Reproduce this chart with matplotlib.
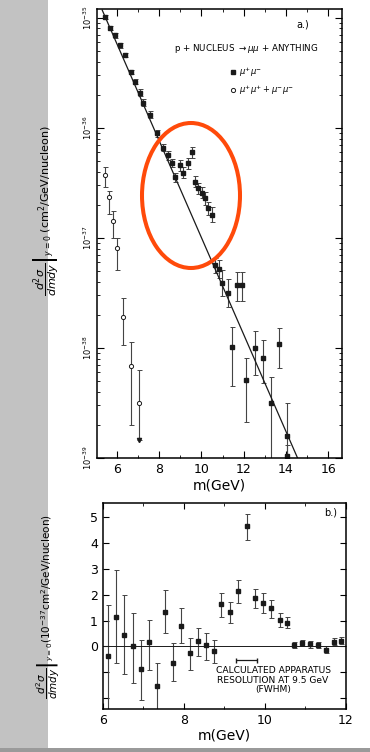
import numpy as np
import matplotlib.pyplot as plt
from matplotlib.patches import Ellipse, Rectangle
from matplotlib.lines import Line2D
from matplotlib.ticker import LogLocator, NullFormatter, MultipleLocator

plt.rcParams['font.family'] = ['DejaVu Sans']

# ---- panel a: mu+ mu- (filled), log10 of cross section ----
m_pm = [5.43, 5.67, 5.91, 6.14, 6.38, 6.66, 6.85, 7.09, 7.23, 7.56, 7.90, 8.18, 8.42,
        8.61, 8.75, 8.99, 9.13, 9.36, 9.55, 9.70, 9.84, 10.03, 10.17, 10.31, 10.50,
        10.64, 10.83, 10.98, 11.26, 11.69, 11.92, 11.45, 12.11, 12.54, 12.92, 13.30,
        13.68, 14.06, 14.06]
log_pm = [-34.99, -35.09, -35.16, -35.25, -35.34, -35.49, -35.58, -35.68, -35.77, -35.88,
          -36.05, -36.18, -36.25, -36.32, -36.45, -36.34, -36.41, -36.32, -36.22, -36.49,
          -36.55, -36.59, -36.64, -36.73, -36.79, -37.25, -37.28, -37.41, -37.50, -37.43,
          -37.43, -37.99, -38.29, -38.00, -38.09, -38.50, -37.96, -38.80, -38.98]
err_lo_pm = [0.02, 0.02, 0.02, 0.02, 0.02, 0.02, 0.02, 0.03, 0.03, 0.03, 0.03, 0.03, 0.04,
             0.04, 0.04, 0.05, 0.05, 0.05, 0.05, 0.05, 0.05, 0.05, 0.06, 0.06, 0.07,
             0.07, 0.08, 0.12, 0.13, 0.14, 0.14, 0.36, 0.38, 0.25, 0.23, 0.55, 0.22, 0.30, 0.30]
err_hi_pm = [0.02, 0.02, 0.02, 0.02, 0.02, 0.02, 0.02, 0.03, 0.03, 0.03, 0.03, 0.03, 0.04,
             0.04, 0.04, 0.05, 0.05, 0.05, 0.05, 0.05, 0.05, 0.05, 0.06, 0.06, 0.07,
             0.07, 0.08, 0.12, 0.13, 0.12, 0.12, 0.18, 0.20, 0.15, 0.16, 0.24, 0.14, 0.30, 0.10]

# like-sign pairs (open)
m_ls = [5.43, 5.62, 5.81, 6.00, 6.28, 6.66, 7.04]
log_ls = [-36.43, -36.63, -36.85, -37.09, -37.72, -38.16, -38.50]
err_lo_ls = [0.11, 0.15, 0.15, 0.20, 0.25, 0.54, 0.34]
err_hi_ls = [0.07, 0.06, 0.09, 0.09, 0.17, 0.21, 0.30]

# exponential fit line (end points)
fit_m = [5.30, 14.55]
fit_log = [-34.93, -39.00]

# ---- panel b: excess over continuum, 1e-37 units ----
m_b = [6.13, 6.32, 6.52, 6.74, 6.94, 7.13, 7.34, 7.53, 7.74, 7.94, 8.14, 8.35, 8.55,
       8.75, 8.92, 9.13, 9.34, 9.55, 9.75, 9.95, 10.15, 10.36, 10.54, 10.71, 10.91,
       11.11, 11.31, 11.51, 11.70, 11.88]
val_b = [-0.38, 1.15, 0.45, 0.0, -0.87, 0.19, -1.51, 1.35, -0.64, 0.79, -0.26, 0.23, 0.04,
         -0.19, 1.64, 1.35, 2.15, 4.64, 1.86, 1.69, 1.47, 1.03, 0.92, 0.06, 0.13,
         0.09, 0.06, -0.13, 0.19, 0.22]
top_b = [1.60, 2.95, 1.99, 1.28, 0.26, 1.03, -0.64, 2.18, 0.13, 1.47, 0.32, 0.71, 0.51,
         0.26, 2.05, 1.73, 2.56, 5.13, 2.24, 2.05, 1.80, 1.31, 1.15, 0.19, 0.26,
         0.22, 0.19, 0.0, 0.32, 0.35]
bot_b = [-2.60, -0.64, -1.05, -1.41, -2.05, -0.90, -2.60, 0.51, -1.35, 0.13, -0.90, -0.38, -0.51,
         -0.64, 1.15, 0.90, 1.67, 4.10, 1.47, 1.28, 1.09, 0.77, 0.70, -0.06, 0.0,
         -0.04, -0.07, -0.26, 0.06, 0.09]
res_center, res_half = 9.55, 0.26

fig = plt.figure(figsize=(3.7, 7.52), dpi=100)
fig.patch.set_facecolor('white')
fig.patches.append(Rectangle((0, 0), 48 / 370, 1, transform=fig.transFigure,
                             facecolor='#c2c2c2', edgecolor='none', zorder=-5))
fig.patches.append(Rectangle((0, 0), 1, 4 / 752, transform=fig.transFigure,
                             facecolor='#9a9a9a', edgecolor='none', zorder=-5))

ink = '#1a1a1a'
ylab_frac = r'$\left.\dfrac{d^2\sigma}{dmdy}\right|_{y=0}$'

# ---- top panel ----
ax = fig.add_axes([0.262, 0.391, 0.662, 0.597])
ypm = 10.0 ** np.array(log_pm)
lo = ypm - 10.0 ** (np.array(log_pm) - np.array(err_lo_pm))
hi = 10.0 ** (np.array(log_pm) + np.array(err_hi_pm)) - ypm
ax.errorbar(m_pm, ypm, yerr=[lo, hi], fmt='s', ms=2.6, color=ink, ecolor='#444444',
            elinewidth=0.8, capsize=1.8, capthick=0.7)
yls = 10.0 ** np.array(log_ls)
lo = yls - 10.0 ** (np.array(log_ls) - np.array(err_lo_ls))
hi = 10.0 ** (np.array(log_ls) + np.array(err_hi_ls)) - yls
ax.errorbar(m_ls, yls, yerr=[lo, hi], fmt='o', ms=3, mfc='white', mec=ink, mew=0.7,
            color=ink, ecolor='#444444', elinewidth=0.8, capsize=1.8, capthick=0.7)
# arrow (upper limit) on last like-sign point
ax.plot(m_ls[-1], 10.0 ** (log_ls[-1] - err_lo_ls[-1]), marker='v', ms=3, color=ink)
ax.plot(fit_m, 10.0 ** np.array(fit_log), color=ink, lw=0.9)

ax.set_yscale('log')
ax.set_xlim(5.05, 16.65)
ax.set_ylim(10 ** -39.0, 10 ** -34.92)
ax.set_yticks([1e-39, 1e-38, 1e-37, 1e-36, 1e-35])
ax.set_yticklabels([r'$10^{-39}$', r'$10^{-38}$', r'$10^{-37}$', r'$10^{-36}$', r'$10^{-35}$'],
                   rotation=90, va='center', fontsize=6)
ax.yaxis.set_minor_locator(LogLocator(base=10, subs=np.arange(2, 10)))
ax.yaxis.set_minor_formatter(NullFormatter())
ax.set_xticks([6, 8, 10, 12, 14, 16])
ax.xaxis.set_minor_locator(MultipleLocator(1))
ax.tick_params(which='both', direction='in', top=True, right=True, labelsize=9)
ax.tick_params(axis='y', which='major', labelsize=6, pad=2)
ax.tick_params(which='major', length=5)
ax.tick_params(which='minor', length=2.5)
for s in ax.spines.values():
    s.set_linewidth(1.1)
ax.set_xlabel('m(GeV)', fontsize=10, labelpad=2)
ax.set_ylabel(ylab_frac + r' (cm$^2$/GeV/nucleon)', fontsize=8)
ax.yaxis.set_label_coords(-0.15, 0.55)

ax.text(0.84, 0.965, 'a.)', transform=ax.transAxes, fontsize=7, ha='center', va='center')
ax.text(0.61, 0.913, r'p + NUCLEUS $\rightarrow\mu\mu$ + ANYTHING', transform=ax.transAxes,
        fontsize=6.3, ha='center', va='center')
handles = [Line2D([], [], marker='s', ls='none', ms=2.6, color=ink),
           Line2D([], [], marker='o', ls='none', ms=3, mfc='white', mec=ink, mew=0.7)]
ax.legend(handles, [r'$\mu^{+}\mu^{-}$', r'$\mu^{+}\mu^{+}+\mu^{-}\mu^{-}$'],
          loc='upper left', bbox_to_anchor=(0.52, 0.885), frameon=False, fontsize=6,
          handletextpad=0.2, handlelength=1.0, labelspacing=0.5, borderpad=0.1)

# highlight ellipse (pixels -> figure fraction)
fig.patches.append(Ellipse((191 / 370, 1 - 195.5 / 752), 98 / 370, 145 / 752,
                           transform=fig.transFigure, fill=False,
                           edgecolor='#ff4a0a', lw=2.9, zorder=5))

# ---- bottom panel ----
bx = fig.add_axes([0.278, 0.057, 0.657, 0.274])
vb = np.array(val_b)
bx.errorbar(m_b, vb, yerr=[vb - np.array(bot_b), np.array(top_b) - vb], fmt='s', ms=2.6,
            color=ink, ecolor='#444444', elinewidth=0.8, capsize=1.8, capthick=0.7)
bx.axhline(0, color=ink, lw=0.7)
bx.errorbar(res_center, -0.54, xerr=res_half, fmt='none', ecolor=ink, elinewidth=0.9,
            capsize=1.8)
bx.text(10.2, -1.3, 'CALCULATED APPARATUS\nRESOLUTION AT 9.5 GeV\n(FWHM)', fontsize=6.6,
        ha='center', va='center', linespacing=1.1)
bx.text(0.935, 0.955, 'b.)', transform=bx.transAxes, fontsize=7, ha='center', va='center')
bx.set_xlim(6, 12)
bx.set_ylim(-2.42, 5.54)
bx.set_xticks([6, 8, 10, 12])
bx.xaxis.set_minor_locator(MultipleLocator(1))
bx.set_yticks(range(-2, 6))
bx.set_yticklabels(['', '', '0', '1', '2', '3', '4', '5'])
bx.tick_params(which='both', direction='in', top=True, right=True, labelsize=9)
bx.tick_params(which='major', length=4)
bx.tick_params(which='minor', length=2.5)
for s in bx.spines.values():
    s.set_linewidth(1.1)
bx.set_xlabel('m(GeV)', fontsize=10, labelpad=1)
bx.set_ylabel(ylab_frac + r'(10$^{-37}$cm$^2$/GeV/nucleon)', fontsize=7.5)
bx.yaxis.set_label_coords(-0.17, 0.5)

fig.savefig('out.png', dpi=100)
